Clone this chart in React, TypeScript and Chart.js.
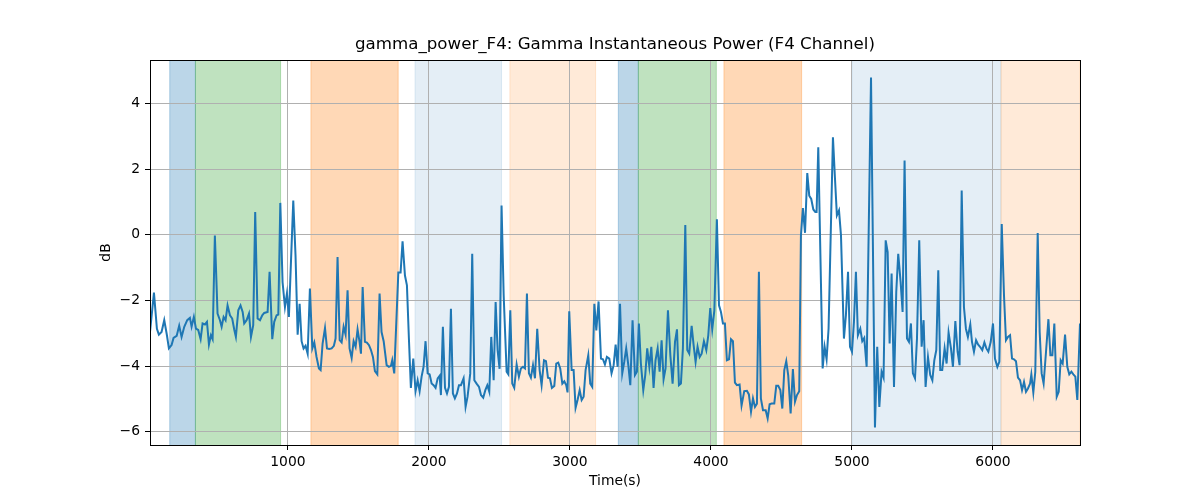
import React, { useEffect, useRef } from "react";
import { Chart, registerables } from "chart.js";

Chart.register(...registerables);

const TITLE = "gamma_power_F4: Gamma Instantaneous Power (F4 Channel)";
const X_LABEL = "Time(s)";
const Y_LABEL = "dB";

const TIMES = [
  22, 50, 71, 85, 104, 123, 142, 156, 175, 189, 211, 229, 246, 265, 286, 305, 317, 333, 348, 364,
  381, 395, 412, 426, 440, 454, 466, 482, 501, 518, 530, 544, 558, 572, 589, 605, 620, 631, 648, 664,
  679, 690, 707, 724, 738, 754, 768, 785, 802, 818, 832, 856, 870, 889, 903, 920, 932, 946, 962, 979,
  993, 1007, 1038, 1054, 1069, 1083, 1097, 1111, 1125, 1140, 1156, 1173, 1187, 1203, 1220, 1232, 1246, 1263, 1277, 1293,
  1310, 1326, 1338, 1352, 1367, 1381, 1395, 1409, 1423, 1437, 1452, 1466, 1480, 1494, 1508, 1518, 1530, 1546, 1560, 1575,
  1589, 1603, 1617, 1634, 1650, 1664, 1679, 1700, 1716, 1731, 1740, 1754, 1783, 1799, 1813, 1830, 1844, 1858, 1872, 1889,
  1905, 1920, 1934, 1948, 1962, 1976, 1991, 2005, 2019, 2033, 2047, 2062, 2076, 2085, 2099, 2114, 2128, 2142, 2156, 2170,
  2184, 2199, 2213, 2227, 2246, 2260, 2274, 2293, 2307, 2322, 2338, 2355, 2369, 2385, 2400, 2414, 2428, 2442, 2459, 2473,
  2487, 2501, 2515, 2530, 2551, 2563, 2577, 2591, 2605, 2622, 2638, 2652, 2667, 2681, 2695, 2709, 2723, 2738, 2752, 2768,
  2785, 2799, 2816, 2830, 2844, 2858, 2872, 2889, 2903, 2917, 2931, 2946, 2960, 2974, 2983, 2995, 3012, 3026, 3040, 3054,
  3069, 3083, 3097, 3111, 3130, 3144, 3158, 3173, 3187, 3203, 3220, 3234, 3248, 3262, 3279, 3295, 3310, 3324, 3338, 3355,
  3371, 3385, 3399, 3414, 3428, 3444, 3461, 3475, 3489, 3503, 3520, 3534, 3548, 3563, 3577, 3593, 3607, 3622, 3636, 3650,
  3664, 3678, 3695, 3712, 3728, 3745, 3759, 3773, 3787, 3801, 3818, 3832, 3846, 3863, 3877, 3891, 3905, 3920, 3934, 3950,
  3967, 3981, 3995, 4009, 4024, 4042, 4057, 4071, 4085, 4099, 4113, 4128, 4142, 4156, 4170, 4184, 4203, 4217, 4236, 4255,
  4269, 4284, 4298, 4312, 4326, 4340, 4354, 4369, 4388, 4402, 4416, 4430, 4449, 4463, 4477, 4492, 4506, 4520, 4534, 4548,
  4565, 4581, 4596, 4610, 4626, 4638, 4652, 4667, 4683, 4697, 4711, 4726, 4740, 4749, 4761, 4792, 4806, 4820, 4834, 4865,
  4879, 4893, 4908, 4922, 4943, 4957, 4972, 4986, 5000, 5014, 5028, 5042, 5059, 5073, 5087, 5104, 5135, 5163, 5179, 5194,
  5210, 5224, 5239, 5253, 5267, 5281, 5298, 5314, 5328, 5345, 5359, 5373, 5390, 5404, 5418, 5432, 5447, 5461, 5477, 5494,
  5508, 5522, 5539, 5555, 5570, 5584, 5598, 5612, 5626, 5640, 5657, 5671, 5685, 5702, 5716, 5733, 5749, 5763, 5778, 5794,
  5808, 5822, 5839, 5851, 5865, 5880, 5894, 5908, 5924, 5939, 5953, 5967, 5984, 6000, 6014, 6031, 6045, 6062, 6078, 6092,
  6106, 6121, 6135, 6149, 6163, 6177, 6192, 6206, 6220, 6234, 6248, 6263, 6272, 6286, 6300, 6317, 6331, 6345, 6359, 6376,
  6393, 6407, 6421, 6435, 6452, 6466, 6480, 6494, 6511, 6527, 6541, 6556, 6570, 6584, 6598, 6617,
];

const POWER = [
  -2.96, -1.76, -2.86, -3.04, -2.96, -2.6, -3.06, -3.46, -3.36, -3.14, -3.08, -2.77, -3.11, -2.8, -2.6, -2.53, -2.8, -2.5, -2.86, -2.9,
  -3.18, -2.7, -2.73, -2.65, -3.34, -3.06, -3.18, -0.02, -2.4, -2.6, -2.8, -2.5, -2.6, -2.15, -2.45, -2.55, -2.9, -3.11, -2.3, -2.15,
  -2.35, -2.7, -2.6, -2.4, -3.11, -2.75, 0.69, -2.55, -2.6, -2.45, -2.38, -2.35, -1.13, -3.18, -2.65, -2.45, -2.43, 0.97, -1.44, -2.2,
  -1.79, -2.5, 1.04, -0.63, -3.04, -2.1, -3.24, -3.46, -3.38, -3.62, -1.64, -3.46, -3.28, -3.72, -4.07, -4.12, -3.31, -2.84, -3.46, -3.48,
  -3.46, -3.38, -3.16, -0.68, -3.21, -3.28, -2.8, -3.04, -1.69, -3.46, -3.75, -3.24, -3.41, -2.88, -3.26, -3.62, -1.59, -3.26, -3.28, -3.36,
  -3.51, -3.72, -4.15, -4.25, -1.79, -2.96, -3.24, -3.97, -4.02, -3.99, -3.82, -4.22, -1.15, -1.15, -0.2, -1.24, -1.54, -3.16, -4.66, -3.77,
  -4.76, -4.43, -4.76, -4.32, -4.02, -3.24, -4.22, -4.25, -4.53, -4.58, -4.66, -4.37, -4.29, -4.88, -2.8, -4.66, -4.83, -4.63, -2.25, -4.83,
  -4.98, -4.83, -4.58, -4.58, -4.37, -5.24, -4.93, -4.22, -0.58, -4.43, -4.53, -4.63, -4.88, -4.96, -4.73, -4.58, -4.78, -3.11, -4.43, -2.05,
  -3.51, -4.08, 0.89, -1.84, -4.17, -4.25, -2.3, -4.53, -4.66, -3.95, -4.32, -4.07, -4.02, -4.07, -1.79, -4.22, -4.35, -3.97, -4.37, -2.86,
  -4.12, -4.58, -3.82, -3.85, -4.35, -4.37, -4.66, -4.6, -3.92, -3.89, -4.07, -4.53, -4.46, -4.58, -4.8, -2.33, -4.12, -4.12, -5.27, -5.03,
  -4.73, -5.03, -4.93, -4.12, -3.67, -4.53, -4.63, -2.1, -2.91, -2.03, -3.77, -3.79, -3.95, -3.72, -3.77, -4.22, -3.97, -3.34, -4.02, -2.1,
  -4.22, -3.87, -3.46, -3.97, -4.58, -2.6, -4.27, -4.17, -2.7, -3.92, -4.73, -4.27, -3.46, -4.02, -3.41, -4.66, -3.82, -3.46, -4.17, -3.21,
  -4.4, -4.07, -2.3, -3.67, -4.53, -3.26, -2.88, -4.58, -4.53, -3.46, 0.3, -3.51, -3.62, -2.77, -3.36, -3.87, -3.41, -3.72, -3.62, -3.24,
  -3.51, -3.06, -2.23, -2.88, -2.3, 0.47, -2.15, -2.35, -2.7, -2.7, -3.82, -3.79, -3.18, -3.24, -4.5, -4.58, -4.56, -5.2, -4.76, -4.75,
  -4.86, -5.39, -4.98, -5.24, -5.14, -1.13, -4.98, -5.34, -5.34, -5.59, -5.16, -5.14, -5.14, -4.6, -4.6, -4.73, -5.29, -4.12, -3.85, -4.29,
  -5.44, -4.09, -5.08, -4.88, -4.76, -0.02, 0.81, 0.06, 1.88, 1.19, 1.09, 0.77, 0.69, 0.69, 2.66, -4.07, -3.41, -3.79, -2.86, 2.97,
  1.75, 0.59, 0.74, -0.02, -3.16, -2.45, -1.13, -3.41, -3.56, -2.65, -1.13, -3.06, -2.86, -3.24, -3.14, -4.02, 4.79, -5.87, -3.41, -5.24,
  -4.17, -4.35, -0.17, -0.53, -3.31, -1.18, -4.63, -1.74, -0.58, -1.44, -2.35, 2.26, -3.16, -3.26, -2.7, -4.22, -4.37, -3.16, -0.17, -3.41,
  -2.6, -4.63, -3.72, -4.27, -4.43, -3.82, -3.51, -1.08, -4.12, -4.12, -3.46, -3.92, -2.98, -3.46, -4.02, -2.63, -3.56, -3.97, 1.35, -2.2,
  -2.86, -3.11, -2.73, -3.26, -3.56, -3.21, -3.34, -3.41, -3.51, -3.28, -3.46, -3.56, -3.26, -2.7, -3.77, -4.02, -3.87, 0.33, -1.84, -3.21,
  -3.11, -3.06, -3.77, -3.79, -3.85, -4.35, -4.43, -4.73, -4.48, -4.78, -4.68, -4.53, -4.25, -4.8, -4.17, 0.05, -2.96, -4.22, -4.53, -3.56,
  -2.57, -3.67, -3.67, -2.7, -4.93, -4.78, -3.82, -3.92, -3.04, -4.02, -4.25, -4.17, -4.25, -4.32, -5.03, -2.7,
];

const X_TICKS = [1000, 2000, 3000, 4000, 5000, 6000];
const Y_TICKS = [-6, -4, -2, 0, 2, 4];
const Y_MIN = -6.4;
const Y_MAX = 5.32;

const SPAN_STARTS = [162, 344, 1163, 1901, 2574, 3343, 3485, 4092, 5002, 6057];
const SPAN_ENDS = [344, 948, 1782, 2515, 3182, 3485, 4038, 4643, 6057, 6617];
const SPAN_COLORS = [
  "rgba(31,119,180,0.3)",
  "rgba(44,160,44,0.3)",
  "rgba(255,127,14,0.3)",
  "rgba(31,119,180,0.12)",
  "rgba(255,127,14,0.16)",
  "rgba(31,119,180,0.3)",
  "rgba(44,160,44,0.3)",
  "rgba(255,127,14,0.3)",
  "rgba(31,119,180,0.12)",
  "rgba(255,127,14,0.16)",
];

const LINE_COLOR = "#1f77b4";
const GRID_COLOR = "#b0b0b0";
const FONT = "'DejaVu Sans', sans-serif";
const TICK_SIZE = 13.89;
const TITLE_SIZE = 16.67;

const minus = (v: number) => (v < 0 ? "\u2212" + Math.abs(v) : String(v));

const spansPlugin = {
  id: "spans",
  beforeDraw(chart: any) {
    const { ctx, chartArea, scales } = chart;
    const x = scales.x;
    ctx.save();
    ctx.beginPath();
    ctx.rect(chartArea.left, chartArea.top, chartArea.right - chartArea.left, chartArea.bottom - chartArea.top);
    ctx.clip();
    SPAN_STARTS.forEach((s, i) => {
      const x0 = x.getPixelForValue(s);
      const x1 = x.getPixelForValue(SPAN_ENDS[i]);
      ctx.fillStyle = SPAN_COLORS[i];
      ctx.fillRect(x0, chartArea.top, x1 - x0, chartArea.bottom - chartArea.top);
      ctx.strokeStyle = SPAN_COLORS[i];
      ctx.lineWidth = 1;
      ctx.beginPath();
      ctx.moveTo(x0, chartArea.top);
      ctx.lineTo(x0, chartArea.bottom);
      ctx.moveTo(x1, chartArea.top);
      ctx.lineTo(x1, chartArea.bottom);
      ctx.stroke();
    });
    ctx.restore();
  },
  afterDatasetsDraw(chart: any) {
    const { ctx, chartArea } = chart;
    ctx.save();
    ctx.strokeStyle = "#000";
    ctx.lineWidth = 1;
    const l = Math.round(chartArea.left) + 0.5;
    const t = Math.round(chartArea.top) + 0.5;
    const r = Math.round(chartArea.right) + 0.5;
    const b = Math.round(chartArea.bottom) + 0.5;
    ctx.strokeRect(l, t, r - l, b - t);
    ctx.restore();
  },
};

export default function App() {
  const canvasRef = useRef<HTMLCanvasElement | null>(null);

  useEffect(() => {
    if (!canvasRef.current) return;
    Chart.defaults.font.family = FONT;
    Chart.defaults.color = "#000";
    const points = TIMES.map((t, i) => ({ x: t, y: POWER[i] }));
    const chart = new Chart(canvasRef.current, {
      type: "line",
      data: {
        datasets: [
          {
            data: points,
            borderColor: LINE_COLOR,
            borderWidth: 2,
            pointRadius: 0,
            tension: 0,
            fill: false,
          },
        ],
      },
      options: {
        animation: false,
        responsive: false,
        devicePixelRatio: 1,
        layout: { padding: { left: 94, right: 120, top: 0, bottom: 7 } },
        plugins: {
          legend: { display: false },
          tooltip: { enabled: false },
          title: {
            display: true,
            text: TITLE,
            fullSize: false,
            color: "#000",
            font: { size: TITLE_SIZE, weight: "normal", family: FONT },
            padding: { top: 35, bottom: 5 },
          },
        },
        scales: {
          x: {
            type: "linear",
            min: TIMES[0],
            max: TIMES[TIMES.length - 1],
            afterBuildTicks: (scale: any) => {
              scale.ticks = X_TICKS.map((v) => ({ value: v }));
            },
            afterFit: (scale: any) => {
              scale.height = 48;
            },
            ticks: {
              autoSkip: false,
              maxRotation: 0,
              padding: 4,
              color: "#000",
              font: { size: TICK_SIZE, family: FONT },
              callback: (v: any) => minus(Number(v)),
            },
            grid: {
              color: GRID_COLOR,
              lineWidth: 1,
              drawTicks: true,
              tickLength: 5,
              tickColor: "#000",
              tickWidth: 1,
            },
            border: { display: false },
            title: {
              display: true,
              text: X_LABEL,
              color: "#000",
              font: { size: TICK_SIZE, family: FONT },
              padding: { top: 4, bottom: 3 },
            },
          },
          y: {
            type: "linear",
            min: Y_MIN,
            max: Y_MAX,
            afterBuildTicks: (scale: any) => {
              scale.ticks = Y_TICKS.map((v) => ({ value: v }));
            },
            afterFit: (scale: any) => {
              scale.width = 56;
            },
            ticks: {
              autoSkip: false,
              padding: 5,
              color: "#000",
              font: { size: TICK_SIZE, family: FONT },
              callback: (v: any) => minus(Number(v)),
            },
            grid: {
              color: GRID_COLOR,
              lineWidth: 1,
              drawTicks: true,
              tickLength: 5,
              tickColor: "#000",
              tickWidth: 1,
            },
            border: { display: false },
            title: {
              display: true,
              text: Y_LABEL,
              color: "#000",
              font: { size: TICK_SIZE, family: FONT },
              padding: { top: 4, bottom: 4 },
            },
          },
        },
      },
      plugins: [spansPlugin],
    } as any);
    return () => chart.destroy();
  }, []);

  return (
    <div style={{ position: "absolute", left: 0, top: 0, width: 1200, height: 500, background: "#fff" }}>
      <canvas ref={canvasRef} width={1200} height={500} style={{ width: 1200, height: 500 }} />
    </div>
  );
}
